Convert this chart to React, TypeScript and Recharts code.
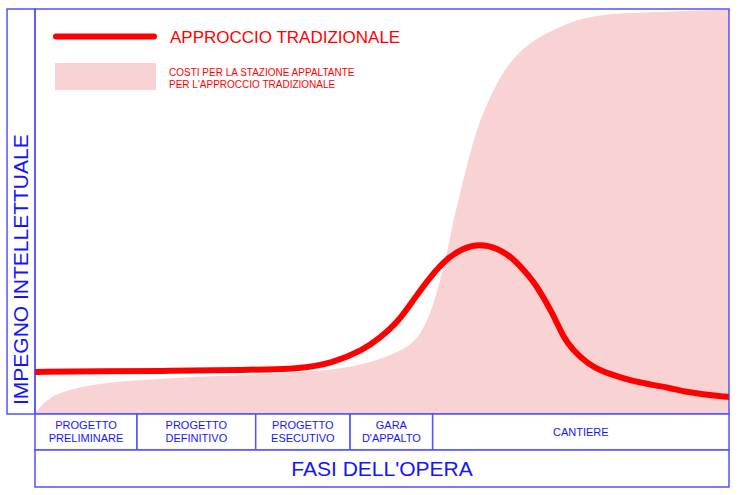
import React from "react";
import {
    ComposedChart,
    Area,
    Line,
    XAxis,
    YAxis,
    ReferenceArea,
    Legend
} from "recharts";

// x: position along the project phases (0-100), values: relative effort (0-100)
const effortX = [0, 9.4, 19.5, 29.5, 38.2, 42.9, 47.3, 49.7, 52.2, 54.5, 56.9, 59.4, 61.7, 64.1, 66.6, 68.9, 71.3, 72.3, 74.6, 76.1, 77.5, 79.5, 81.8, 84.3, 86.7, 89.0, 91.5, 93.9, 96.3, 98.7, 100];
const effortValues = [10.4, 10.6, 10.6, 10.9, 11.1, 12.6, 15.8, 18.8, 22.5, 28.1, 33.8, 38.5, 41.0, 42.0, 41.0, 38.5, 33.8, 31.6, 24.9, 19.0, 15.8, 12.6, 10.4, 9.1, 7.9, 7.2, 6.4, 5.4, 4.9, 4.4, 4.2];

const costX = [0, 0.7, 2.2, 4.6, 9.4, 19.0, 28.5, 38.2, 42.5, 47.3, 52.2, 54.5, 55.9, 57.3, 58.4, 59.4, 60.2, 61.2, 62.7, 64.1, 65.6, 67.0, 68.9, 71.3, 73.8, 76.1, 78.5, 81.0, 83.3, 85.7, 92.9, 100];
const costValues = [0, 1.7, 4.2, 5.9, 7.7, 8.9, 9.4, 10.4, 10.9, 12.1, 15.1, 17.5, 20.7, 26.4, 33.1, 39.8, 47.2, 54.1, 64.7, 72.6, 78.3, 83.2, 87.9, 91.6, 94.1, 96.0, 97.5, 98.3, 98.8, 99.0, 99.5, 99.8];

const phaseNames = [
    ["PROGETTO", "PRELIMINARE"],
    ["PROGETTO", "DEFINITIVO"],
    ["PROGETTO", "ESECUTIVO"],
    ["GARA", "D'APPALTO"],
    ["CANTIERE"]
];
const phaseBounds = [0, 14.7, 31.8, 45.4, 57.3, 100];

const lineLabel = "APPROCCIO TRADIZIONALE";
const areaLabel = ["COSTI PER LA STAZIONE APPALTANTE", "PER L'APPROCCIO TRADIZIONALE"];
const xTitle = "FASI DELL'OPERA";
const yTitle = "IMPEGNO INTELLETTUALE";

const effortData = effortX.map((x, i) => ({ x, effort: effortValues[i] }));
const costData = costX.map((x, i) => ({ x, cost: costValues[i] }));

const FONT = "'Liberation Sans', Arial, Helvetica, sans-serif";
const RED = "#ff0000";
const PINK = "#f9d2d4";
const BLUE_LINE = "#5252ff";
const BLUE_TEXT = "#1414ff";

const cellLabel = (lines: string[], size: number) => (props: any) => {
    const vb = props.viewBox ?? props;
    const cx = vb.x + vb.width / 2;
    const cy = vb.y + vb.height / 2;
    const lh = size * 1.2;
    const start = cy - ((lines.length - 1) * lh) / 2 + size * 0.35;
    return (
        <text textAnchor="middle" fontFamily={FONT} fontSize={size} fill={BLUE_TEXT}>
            {lines.map((l, i) => (
                <tspan key={i} x={cx} y={start + i * lh}>{l}</tspan>
            ))}
        </text>
    );
};

const yTitleLabel = (props: any) => {
    const vb = props.viewBox ?? props;
    const cx = vb.x + vb.width / 2;
    const bottom = vb.y + vb.height - 9;
    return (
        <text
            transform={`translate(${cx},${bottom}) rotate(-90)`}
            y={21 * 0.35}
            textAnchor="start"
            fontFamily={FONT}
            fontSize={21}
            fill={BLUE_TEXT}
        >
            {yTitle}
        </text>
    );
};

function LegendContent({ payload }: any) {
    const items = payload ?? [];
    const line = items.find((p: any) => p.dataKey === "effort");
    const area = items.find((p: any) => p.dataKey === "cost");
    return (
        <svg width={420} height={100} style={{ display: "block" }}>
            <line x1={56} y1={36.5} x2={154} y2={36.5} stroke={line?.color ?? RED} strokeWidth={6} strokeLinecap="round" />
            <text x={170} y={42.5} fontFamily={FONT} fontSize={17} fill={RED}>{line?.value ?? lineLabel}</text>
            <rect x={55} y={63} width={101} height={27} fill={area?.color ?? PINK} />
            <text fontFamily={FONT} fontSize={10} fill={RED}>
                {areaLabel.map((l, i) => (
                    <tspan key={i} x={169} y={76 + i * 12}>{l}</tspan>
                ))}
            </text>
        </svg>
    );
}

export default function App() {
    return (
        <div style={{ position: "absolute", left: 0, top: 0, width: 740, height: 495, background: "#fff" }}>
            <ComposedChart
                width={740}
                height={495}
                margin={{ top: 9, right: 11, left: 35, bottom: 81 }}
                style={{ fontFamily: FONT }}
            >
                <XAxis type="number" dataKey="x" domain={[0, 100]} hide allowDataOverflow />
                <YAxis type="number" domain={[0, 100]} hide allowDataOverflow />
                <Area
                    data={costData}
                    dataKey="cost"
                    name={areaLabel.join(" ")}
                    type="basis"
                    stroke="none"
                    fill={PINK}
                    fillOpacity={1}
                    legendType="rect"
                    isAnimationActive={false}
                />
                <Line
                    data={effortData}
                    dataKey="effort"
                    name={lineLabel}
                    type="basis"
                    stroke={RED}
                    strokeWidth={6}
                    strokeLinecap="round"
                    dot={false}
                    activeDot={false}
                    legendType="line"
                    isAnimationActive={false}
                />
                {/* plot frame and y title box */}
                <ReferenceArea x1={0} x2={100} y1={0} y2={100} fill="none" stroke={BLUE_LINE} strokeWidth={1.5} ifOverflow="visible" />
                <ReferenceArea x1={-4.03} x2={0} y1={0} y2={100} fill="none" stroke={BLUE_LINE} strokeWidth={1.5} ifOverflow="visible" label={yTitleLabel} />
                {/* phase table */}
                {phaseNames.map((lines, i) => (
                    <ReferenceArea
                        key={i}
                        x1={phaseBounds[i]}
                        x2={phaseBounds[i + 1]}
                        y1={-8.9}
                        y2={0}
                        fill="#fff"
                        fillOpacity={1}
                        stroke={BLUE_LINE}
                        strokeWidth={1.5}
                        ifOverflow="visible"
                        label={cellLabel(lines, 11)}
                    />
                ))}
                <ReferenceArea
                    x1={0}
                    x2={100}
                    y1={-18}
                    y2={-8.9}
                    fill="#fff"
                    fillOpacity={1}
                    stroke={BLUE_LINE}
                    strokeWidth={1.5}
                    ifOverflow="visible"
                    label={cellLabel([xTitle], 21)}
                />
                <Legend
                    layout="vertical"
                    align="center"
                    verticalAlign="middle"
                    wrapperStyle={{ left: 0, top: 0, width: 420, height: 100 }}
                    content={<LegendContent />}
                />
            </ComposedChart>
        </div>
    );
}
